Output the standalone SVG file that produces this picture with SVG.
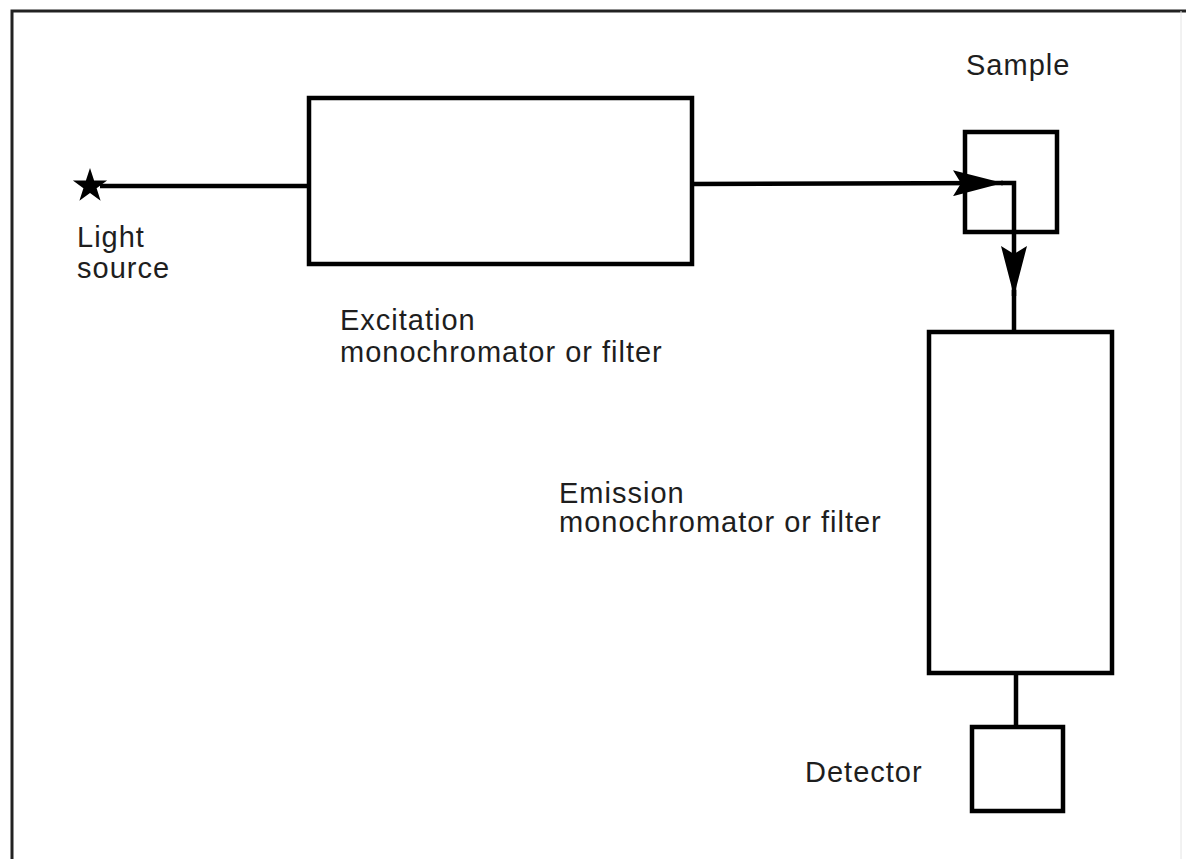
<svg xmlns="http://www.w3.org/2000/svg" width="1186" height="859" viewBox="0 0 1186 859">
<style>
.box{fill:#fff;stroke:#000;stroke-width:4.5;}
.ln{stroke:#000;stroke-width:4.5;fill:none;}
.lbl{font-family:"Liberation Sans",Arial,sans-serif;font-size:29px;letter-spacing:1px;fill:#1e1e1e;}
</style>
<defs>
<marker id="ah" viewBox="0 0 50 26" refX="50" refY="13" markerWidth="50" markerHeight="26" markerUnits="userSpaceOnUse" orient="auto">
<path d="M0,0 L50,13 L0,26 L8,13 Z" fill="#000"/>
</marker>
</defs>
<rect width="1186" height="859" fill="#fff"/>
<g id="frame">
<path d="M12,859 L12,11 L1186,11" fill="none" stroke="#222" stroke-width="3"/>
<line x1="1181" y1="11" x2="1181" y2="859" stroke="#e4e4e4" stroke-width="1"/>
</g>
<g id="connectors">
<line class="ln" x1="100" y1="186" x2="310" y2="186"/>
<line class="ln" x1="692" y1="184" x2="1003" y2="183" marker-end="url(#ah)"/>
<path class="ln" d="M1001,183 L1014,183 L1014,296" marker-end="url(#ah)"/>
<line class="ln" x1="1014" y1="290" x2="1014" y2="332"/>
<line class="ln" x1="1016" y1="673" x2="1016" y2="727"/>
</g>
<g id="light-source">
<path d="M90,168 L94.1,180.4 L107.1,180.5 L96.6,188.3 L100.6,200.8 L90,193.1 L79.4,200.8 L83.4,188.3 L72.9,180.5 L85.9,180.4 Z" fill="#000"/>
<text class="lbl" x="77" y="247">Light</text>
<text class="lbl" x="77" y="278">source</text>
</g>
<g id="excitation">
<rect class="box" x="309" y="98" width="383" height="166"/>
<text class="lbl" x="340" y="330">Excitation</text>
<text class="lbl" x="340" y="362">monochromator or filter</text>
</g>
<g id="sample">
<rect class="box" x="965" y="132" width="92" height="100" style="fill:none"/>
<text class="lbl" x="966" y="75">Sample</text>
</g>
<g id="emission">
<rect class="box" x="929" y="332" width="183" height="341"/>
<text class="lbl" x="559" y="503">Emission</text>
<text class="lbl" x="559" y="532">monochromator or filter</text>
</g>
<g id="detector">
<rect class="box" x="972" y="727" width="91" height="84"/>
<text class="lbl" x="805" y="782">Detector</text>
</g>
</svg>
